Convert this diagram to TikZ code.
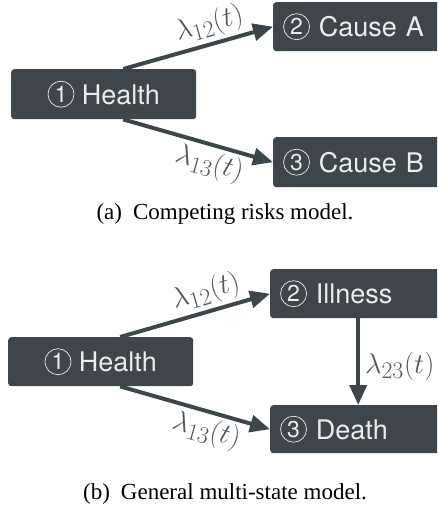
\documentclass[tikz,border=0pt]{standalone}
\usepackage{graphicx}
\usepackage[no-math]{fontspec}
\setmainfont{Liberation Serif}
\newfontfamily\boxfont{TeX Gyre Heros}
\usetikzlibrary{arrows.meta,calc}
\definecolor{boxgray}{HTML}{3D464B}
\definecolor{boxtext}{HTML}{E8EEEE}
\definecolor{labgray}{HTML}{50585D}
\newcommand{\cnum}[1]{\tikz[x=1cm, y=1cm, baseline={([yshift=-2pt]cn.base)}]
  \node[circle, draw=boxtext, fill=none, line width=0.7pt, inner sep=0pt,
    minimum width=26pt, minimum height=26pt, text width=, align=center, anchor=center,
    text=boxtext, font=\boxfont\fontsize{23}{23}\selectfont] (cn) {#1};}
\newcommand{\rt}[1]{\scalebox{1.15}{$#1$}}
\tikzset{
  msbox/.style={fill=boxgray, rounded corners=3pt, text=boxtext,
    font=\boxfont\fontsize{27}{30}\selectfont, inner sep=0pt},
  hbox/.style={msbox, minimum width=185pt, minimum height=50pt, align=center, anchor=north west},
  rbox/.style={msbox, text width=160pt, inner xsep=10pt, minimum height=49pt, align=left, anchor=north west},
  trans/.style={draw=boxgray, line width=4pt, -{Triangle[length=20pt,width=17pt]}},
  rate/.style={text=labgray, font=\fontsize{24.88}{28}\selectfont, inner sep=3pt},
  capt/.style={font=\fontsize{23}{27}\selectfont, text=black, anchor=base, inner sep=0pt},
}
\begin{document}
\begin{tikzpicture}[x=1pt, y=-1pt]
\useasboundingbox (0,0) rectangle (437,505);
\clip (0,0) rectangle (437,505);
% (a) competing risks
\node[hbox] (h1) at (11,69) {\cnum{1} Health};
\node[rbox] (a2) at (273,2) {\cnum{2} Cause A};
\node[rbox, minimum height=50pt] (b3) at (273,137) {\cnum{3} Cause B};
\draw[trans] ($(h1.north)+(19.5,0)$) -- node[rate, above, sloped, pos=0.61] {\rt{\lambda_{12}(t)}} (a2.west);
\draw[trans] ($(h1.south)+(19.5,0)$) -- node[rate, below, sloped, pos=0.61] {\rt{\lambda_{13}(t)}} (b3.west);
\node[capt] (capa) at (225,219) {(a)\hspace{11pt}Competing risks model.};
% (b) multi-state
\node[hbox, minimum height=49pt] (h1b) at (8,337) {\cnum{1} Health};
\node[rbox] (i2) at (270,269) {\cnum{2} Illness};
\node[rbox, minimum height=48pt] (d3) at (270,405) {\cnum{3} Death};
\draw[trans] ($(h1b.north)+(19.5,0)$) -- node[rate, above, sloped, pos=0.61] {\rt{\lambda_{12}(t)}} (i2.west);
\draw[trans] ($(h1b.south)+(19.5,0)$) -- node[rate, below, sloped, pos=0.61] {\rt{\lambda_{13}(t)}} (d3.west);
\draw[trans] ($(i2.south)+(-2,0)$) -- node[rate, right, pos=0.55, inner xsep=5pt] {\rt{\lambda_{23}(t)}} ($(d3.north)+(-2,0)$);
\node[capt] (capb) at (225,499) {(b)\hspace{11pt}General multi-state model.};
\end{tikzpicture}
\end{document}
